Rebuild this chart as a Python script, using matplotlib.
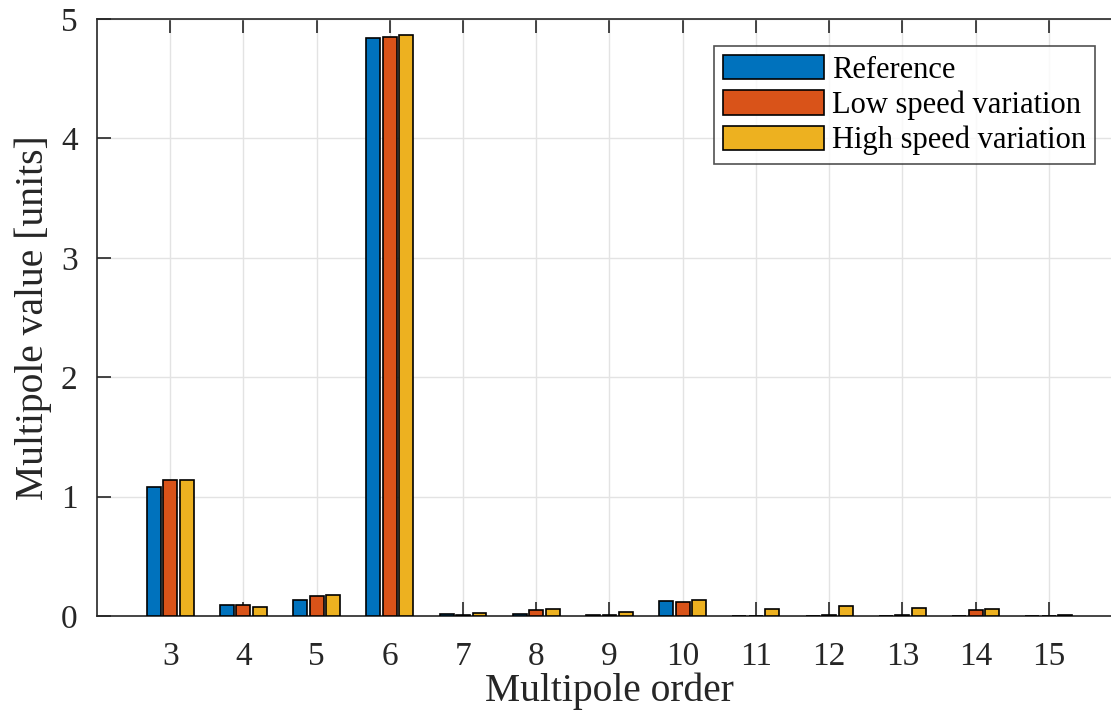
import numpy as np
import matplotlib.pyplot as plt

plt.rcParams['font.family'] = ['Liberation Serif', 'DejaVu Serif']

orders = [3, 4, 5, 6, 7, 8, 9, 10, 11, 12, 13, 14, 15]
ref = [1.08, 0.095, 0.134, 4.84, 0.02, 0.015, 0.008, 0.123, 0.002, 0.003, 0.001, 0.001, 0.001]
low_var = [1.14, 0.089, 0.17, 4.85, 0.01, 0.048, 0.008, 0.12, 0.002, 0.01, 0.005, 0.048, 0.002]
high_var = [1.14, 0.078, 0.18, 4.87, 0.025, 0.056, 0.03, 0.131, 0.058, 0.08, 0.07, 0.055, 0.01]
names = ['Reference', 'Low speed variation', 'High speed variation']
colors = ['#0072BD', '#D95319', '#EDB120']

fig = plt.figure(figsize=(11.11, 7.11), dpi=100)
ax = fig.add_axes([0.0873, 0.1336, 0.9226, 0.8397])

x = np.array(orders)
w = 0.19
for k, (vals, nm, c) in enumerate(zip([ref, low_var, high_var], names, colors)):
    ax.bar(x + (k - 1) * 0.225, vals, width=w, color=c, edgecolor='black',
           linewidth=1.2, label=nm, zorder=3)

ax.set_xlim(2, 16)
ax.set_ylim(0, 5)
ax.set_xticks(orders)
ax.set_yticks([0, 1, 2, 3, 4, 5])
ax.grid(True, color='#e3e3e3', linewidth=1.0, zorder=0)
ax.set_axisbelow(True)
ax.tick_params(direction='in', length=10, width=1.2, labelsize=24, colors='#262626',
               top=True, right=False)
ax.tick_params(axis='x', pad=18)
ax.tick_params(axis='y', pad=14)
for s in ax.spines.values():
    s.set_color('#262626')
    s.set_linewidth(1.2)

ax.set_xlabel('Multipole order', fontsize=28.5, color='#262626', labelpad=1)
ax.set_ylabel('Multipole value [units]', fontsize=28.5, color='#262626', labelpad=6)

leg = ax.legend(loc='upper right', bbox_to_anchor=(0.9737, 0.955), fontsize=22,
                frameon=True, fancybox=False, edgecolor='#262626',
                handlelength=3.3, handleheight=0.85, handletextpad=0.25,
                labelspacing=0.18, borderpad=0.3, borderaxespad=0)
leg.get_frame().set_linewidth(1.2)

fig.savefig('out.png', dpi=100)
